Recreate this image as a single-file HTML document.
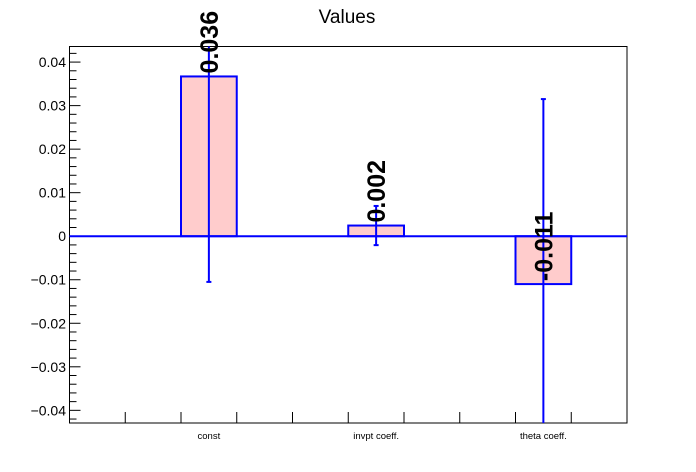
<!DOCTYPE html>
<html><head><meta charset="utf-8"><style>
body{margin:0;background:#fff;}
svg{display:block;font-family:"Liberation Sans",Arial,sans-serif;}
</style></head><body>
<svg id="chart" width="696" height="472" viewBox="0 0 696 472" xmlns="http://www.w3.org/2000/svg">
<rect width="696" height="472" fill="#fff"/>
<text x="347" y="23" font-size="19" text-anchor="middle">Values</text>
<g id="plot"></g>
</svg>
<script>
const categories = ["const", "invpt coeff.", "theta coeff."];
const values = [0.0367, 0.00245, -0.0110];
const errors = [0.0472, 0.0045, 0.0425];
const valueLabels = ["0.036", "0.002", "-0.011"];
const binIndex = [2, 5, 8];
const yTicks = [-0.04, -0.03, -0.02, -0.01, 0, 0.01, 0.02, 0.03, 0.04];
const yTickLabels = ["\u22120.04", "\u22120.03", "\u22120.02", "\u22120.01", "0", "0.01", "0.02", "0.03", "0.04"];

const L = 69.5, R = 627, T = 46.5, B = 423;
const yMin = -0.04291, yMax = 0.04358, nBins = 10;
const NS = "http://www.w3.org/2000/svg";
const x = v => L + (R - L) * v / nBins;
const y = v => B - (B - T) * (v - yMin) / (yMax - yMin);
const g = document.getElementById('plot');
function mk(tag, attrs, parent) {
  const e = document.createElementNS(NS, tag);
  for (const k in attrs) e.setAttribute(k, attrs[k]);
  (parent || g).appendChild(e);
  return e;
}
// clip
const defs = mk('defs', {});
const cp = mk('clipPath', {id: 'clip'}, defs);
mk('rect', {x: L, y: T, width: R - L, height: B - T}, cp);

// frame
const frame = mk('rect', {x: L, y: T, width: R - L, height: B - T, fill: 'none', stroke: '#000', 'stroke-width': 1});



// y ticks
for (let v = -0.042; v <= 0.0435; v += 0.002) {
  const vv = Math.round(v * 1000) / 1000;
  const major = Math.abs(Math.round(vv * 100) - vv * 100) < 1e-6;
  const t = mk('line', {x1: L, x2: L + (major ? 11 : 7), y1: y(vv), y2: y(vv), stroke: '#000'});
  
  
}
yTicks.forEach((v, i) => {
  const t = mk('text', {x: 66, y: y(v) + 5, 'font-size': 14, 'text-anchor': 'end'});
  t.textContent = yTickLabels[i];
  
  
});
// x ticks
for (let i = 1; i < nBins; i++) {
  const t = mk('line', {x1: x(i), x2: x(i), y1: B, y2: B - 11, stroke: '#000'});
  
  
}
categories.forEach((c, i) => {
  const t = mk('text', {x: x(binIndex[i] + 0.5), y: 439, 'font-size': 9.5, 'text-anchor': 'middle'});
  t.textContent = c;
  
  
});

const cg = mk('g', {'clip-path': 'url(#clip)'});
// bars
values.forEach((v, i) => {
  const x0 = x(binIndex[i]), x1 = x(binIndex[i] + 1);
  const top = Math.min(y(v), y(0)), h = Math.abs(y(v) - y(0));
  const b = mk('rect', {x: x0, y: top, width: x1 - x0, height: h, fill: '#ffcccc', stroke: '#0000ff', 'stroke-width': 2}, cg);
  
  
});
// zero line
const zl = mk('line', {x1: L, x2: R, y1: y(0), y2: y(0), stroke: '#0000ff', 'stroke-width': 2}, cg);


// error bars
values.forEach((v, i) => {
  const cx = x(binIndex[i] + 0.5);
  const e = mk('line', {x1: cx, x2: cx, y1: y(v + errors[i]), y2: y(v - errors[i]), stroke: '#0000ff', 'stroke-width': 2}, cg);
  
  
  [v + errors[i], v - errors[i]].forEach(ev => {
    const c = mk('line', {x1: cx - 2.5, x2: cx + 2.5, y1: y(ev), y2: y(ev), stroke: '#0000ff', 'stroke-width': 2}, cg);
    
    
  });
});
// value labels
values.forEach((v, i) => {
  const cx = x(binIndex[i] + 0.5) + 9, by = y(v) - 3;
  const t = mk('text', {x: cx, y: by, 'font-size': 25, 'font-weight': 'bold', transform: `rotate(-90 ${cx} ${by})`});
  t.textContent = valueLabels[i];
  
  
});
</script>
</body></html>
